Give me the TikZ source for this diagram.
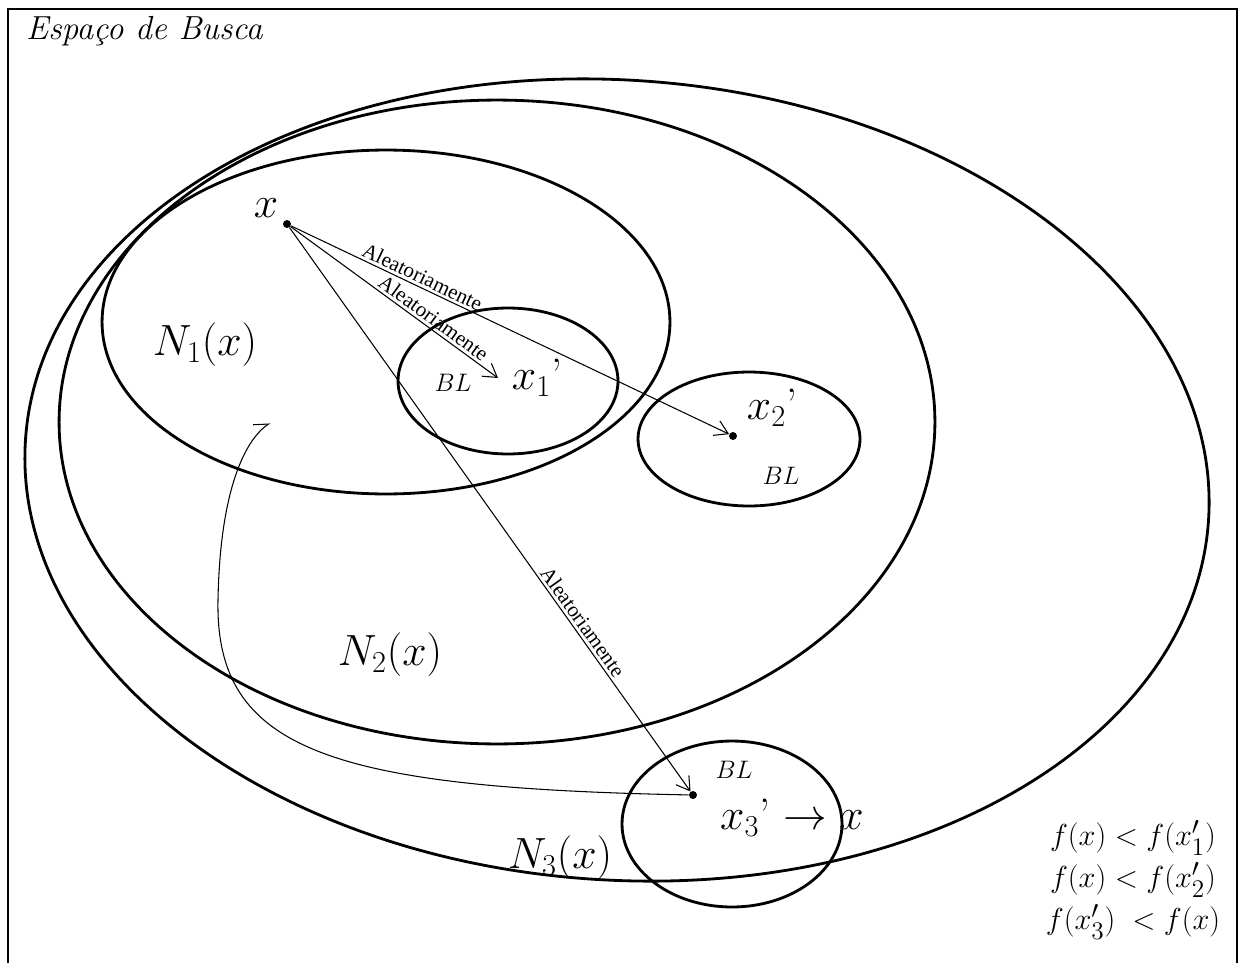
\documentclass[tikz,border=0pt]{standalone}
\usepackage{amsmath}
\usepackage{fontspec}
\usetikzlibrary{arrows.meta,shapes.geometric}
\newfontfamily\randfont{Liberation Serif}
\tikzset{region/.style={ellipse,draw,line width=1.6pt,inner sep=0pt},
  pt/.style={circle,fill,inner sep=1.6pt},
  move/.style={draw,line width=.6pt,-{Straight Barb[length=2.6mm,width=3.2mm]}},
  rnd/.style={font=\randfont\fontsize{12}{14}\selectfont,sloped,above,inner sep=1.5pt},
  big/.style={font=\fontsize{25}{30}\selectfont},
  small/.style={font=\fontsize{15}{18}\selectfont}}

\begin{document}
\begin{tikzpicture}[x=0.02cm,y=-0.02cm]
\useasboundingbox (0,0) rectangle (1246,963);
\draw[line width=1.6pt] (8,963) -- (8,9) -- (1237,9) -- (1237,963);
\node[anchor=west,font=\fontsize{19}{22}\selectfont\itshape] (title) at (20,31) {Espaço de Busca};
\node[region,rotate=-4,minimum width=23.72cm,minimum height=16cm] (N3) at (617,480) {};
\node[region,minimum width=17.52cm,minimum height=12.88cm] (N2) at (497,422) {};
\node[region,minimum width=11.36cm,minimum height=6.88cm] (N1) at (386,322) {};
\node[region,minimum width=4.4cm,minimum height=2.92cm] (B1) at (508,381) {};
\node[region,minimum width=4.44cm,minimum height=2.68cm] (B2) at (749,439) {};
\node[region,minimum width=4.4cm,minimum height=3.32cm] (B3) at (732,824) {};
\node[pt] (x) at (287,224) {};
\node[pt] (p2) at (733,436) {};
\node[pt] (p3) at (693,795) {};
\coordinate (p1) at (498,378);
\coordinate (hook) at (270,423);
\draw[move] (x) -- node[rnd,pos=.29] {Aleatoriamente} (p2);
\draw[move] (x) -- node[rnd,pos=.66] {Aleatoriamente} (p1);
\draw[move] (x) -- node[rnd,pos=.71] {Aleatoriamente} (p3);
\draw[line width=.6pt,-{Straight Barb[left,length=2.6mm,width=3.2mm]}] (p3) .. controls (330,788) and (215,750) .. (218,600) .. controls (220,490) and (245,440) .. (hook);
\node[big] (xl) at (266,208) {$x$};
\node[big] (n1) at (205,345) {$N_1(x)$};
\node[big] (n2) at (390,655) {$N_2(x)$};
\node[big] (n3) at (560,858) {$N_3(x)$};
\node[small] (bl1) at (453,383) {$BL$};
\node[big] (x1) at (537,378) {$x_1$'};
\node[big] (x2) at (772,408) {$x_2$'};
\node[small] (bl2) at (781,476) {$BL$};
\node[small] (bl3) at (734,770) {$BL$};
\node[big] (x3) at (792,818) {$x_3$' $\rightarrow x$};
\node[font=\fontsize{19}{24}\selectfont,align=center] (rel) at (1133,880) {$f(x)<f(x'_1)$\\$f(x)<f(x'_2)$\\$f(x'_3)\;<f(x)$};
\end{tikzpicture}
\end{document}
